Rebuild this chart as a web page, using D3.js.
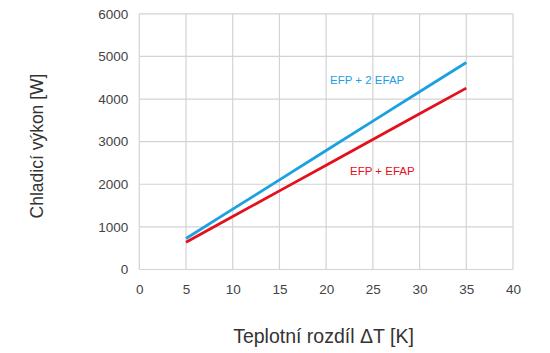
<!DOCTYPE html>
<html><head><meta charset="utf-8">
<script src="https://cdn.jsdelivr.net/npm/d3@7"></script>
<style>body{margin:0;background:#fff}svg{display:block}text{font-family:"Liberation Sans",Arial,sans-serif}</style>
</head><body><svg id="c" width="550" height="353"></svg>
<script>
const xTicks = [0,5,10,15,20,25,30,35,40];
const yTicks = [0,1000,2000,3000,4000,5000,6000];
const deltaT = [5,10,15,20,25,30,35];
const seriesNames = ["EFP + 2 EFAP","EFP + EFAP"];
const efp2efap = [727,1416,2104,2793,3481,4170,4858];
const efpEfap = [640,1243,1845,2448,3051,3653,4256];
const seriesColors = ["#1ba1e2","#e3101e"];

const svg = d3.select("#c");
const x = d3.scaleLinear().domain([0,40]).range([139.3,513]);
const y = d3.scaleLinear().domain([0,6000]).range([269.5,13.8]);

const g = svg.append("g");
g.selectAll(".vx").data(xTicks).join("line")
 .attr("x1",d=>x(d)).attr("x2",d=>x(d)).attr("y1",y(0)).attr("y2",y(6000))
 .attr("stroke","#d3d3d3").attr("stroke-width",1.2);
g.selectAll(".hy").data(yTicks).join("line")
 .attr("x1",x(0)).attr("x2",x(40)).attr("y1",d=>y(d)).attr("y2",d=>y(d))
 .attr("stroke","#d3d3d3").attr("stroke-width",1.2);

const xAxis = d3.axisBottom(x).tickValues(xTicks).tickFormat(d3.format("d")).tickSize(0).tickPadding(15);
const ya = d3.axisLeft(y).tickValues(yTicks).tickFormat(d3.format("d")).tickSize(0).tickPadding(11);
const gx = svg.append("g").attr("transform",`translate(0,${y(0)})`).call(xAxis);
const gy = svg.append("g").attr("transform",`translate(${x(0)},0)`).call(ya);
[gx,gy].forEach(a=>{a.select(".domain").remove();a.selectAll("text").attr("font-size",13.5).attr("fill","#444").attr("font-family","Liberation Sans, Arial, sans-serif");});

const data = [efp2efap, efpEfap];
const line = d3.line().x((d,i)=>x(deltaT[i])).y(d=>y(d));
svg.selectAll(".ln").data(data).join("path")
 .attr("d",d=>line(d)).attr("fill","none")
 .attr("stroke",(d,i)=>seriesColors[i]).attr("stroke-width",2.8);

svg.append("text").attr("x",330).attr("y",y(4350)).attr("fill",seriesColors[0]).attr("font-size",11.5).text(seriesNames[0]);
svg.append("text").attr("x",350).attr("y",y(2220)).attr("fill",seriesColors[1]).attr("font-size",11.5).text(seriesNames[1]);

svg.append("text").attr("x",323.5).attr("y",343).attr("text-anchor","middle")
 .attr("font-size",19.5).attr("fill","#333").text("Teplotní rozdíl ΔT [K]");
svg.append("text").attr("transform",`translate(43,146) rotate(-90)`).attr("text-anchor","middle")
 .attr("font-size",17.5).attr("fill","#333").text("Chladicí výkon [W]");
</script></body></html>
